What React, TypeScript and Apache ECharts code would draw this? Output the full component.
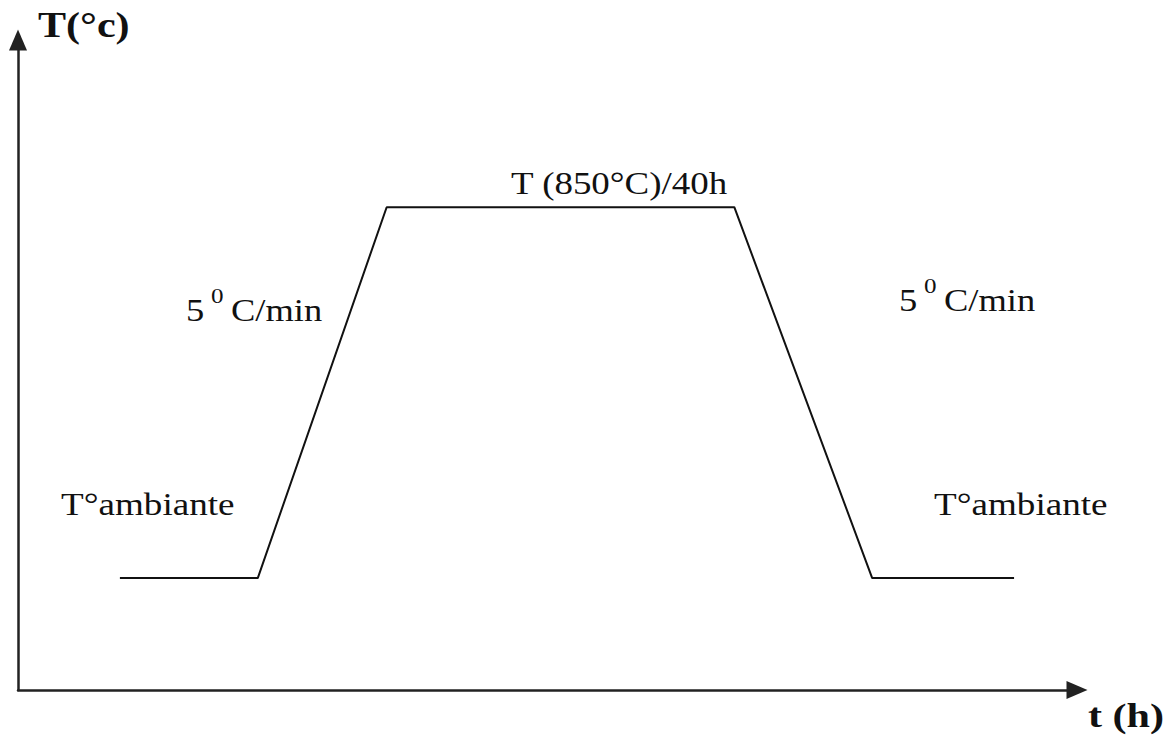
import React, { useEffect, useRef } from "react";
import * as echarts from "echarts";

// Heat-treatment cycle: ramp up, hold, ramp down (schematic time units)
const timePoints = [10.2, 24, 36.9, 71.7, 85.5, 99.7];
const temperatures = [25, 25, 850, 850, 25, 25];

const yAxisName = "T(°c)";
const xAxisName = "t (h)";
const holdLabel = "T (850°C)/40h";
const rateValue = "5";
const rateExponent = "0";
const rateUnit = "C/min";
const ambientLabel = "T°ambiante";

const SERIF = "'Liberation Serif', 'Times New Roman', serif";
const INK = "#111";
const STRETCH = 1.16;

export default function App() {
  const ref = useRef<HTMLDivElement>(null);

  useEffect(() => {
    if (!ref.current) return;
    const chart = echarts.init(ref.current, null, { renderer: "svg" });

    const text = (x: number, y: number, s: string, font: string, scaleX = STRETCH) => ({
      type: "text",
      x,
      y,
      scaleX,
      silent: true,
      style: { text: s, font, fill: INK, textVerticalAlign: "middle" },
    });

    // "5 ⁰C/min" built from a base value, a raised exponent and the unit
    const rate = (x: number, y: number) => [
      text(x, y, rateValue, `32px ${SERIF}`, 1.14),
      text(x + 25, y - 14, rateExponent, `22px ${SERIF}`, 1.14),
      text(x + 45, y, rateUnit, `32px ${SERIF}`, 1.14),
    ];

    const axisLine = {
      show: true,
      onZero: false,
      symbol: ["none", "triangle"],
      symbolSize: [18, 21],
      lineStyle: { color: "#222", width: 2.5 },
    };

    chart.setOption({
      animation: false,
      backgroundColor: "#fff",
      grid: { left: 18, right: 95, top: 40, bottom: 45, containLabel: false },
      xAxis: {
        type: "value",
        min: 0,
        max: 106,
        axisLine,
        axisTick: { show: false },
        axisLabel: { show: false },
        splitLine: { show: false },
      },
      yAxis: {
        type: "value",
        min: -224,
        max: 1222,
        axisLine,
        axisTick: { show: false },
        axisLabel: { show: false },
        splitLine: { show: false },
      },
      series: [
        {
          type: "line",
          data: timePoints.map((t, i) => [t, temperatures[i]]),
          symbol: "none",
          lineStyle: { color: INK, width: 2 },
        },
      ],
      graphic: [
        text(38, 25, yAxisName, `bold 36px ${SERIF}`, 1.17),
        text(1088, 715, xAxisName, `bold 34px ${SERIF}`, 1.24),
        text(511, 183, holdLabel, `32px ${SERIF}`, 1.155),
        text(61, 504, ambientLabel, `32px ${SERIF}`),
        text(934, 504, ambientLabel, `32px ${SERIF}`),
        ...rate(186, 310),
        ...rate(899, 300),
      ],
    });

    return () => chart.dispose();
  }, []);

  return (
    <div
      ref={ref}
      style={{ position: "fixed", left: 0, top: 0, width: 1172, height: 735, background: "#fff" }}
    />
  );
}
